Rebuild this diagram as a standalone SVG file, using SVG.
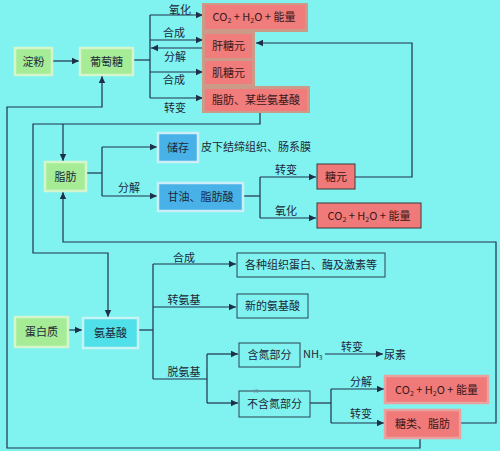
<svg xmlns="http://www.w3.org/2000/svg" width="500" height="451" viewBox="0 0 500 451">
<style>
text{font-family:"Noto Sans CJK SC","Noto Sans",sans-serif;fill:#1c2838;font-size:11px}
.c{text-anchor:middle}
.green{fill:#a6ec96;stroke:#d4f6cc;stroke-width:2.5}
.blue{fill:#48b2e8;stroke:#cdeef8;stroke-width:2.5}
.cyan{fill:#4fe0ea;stroke:#c6f4f4;stroke-width:2.5}
.redd{fill:#f07a7a;stroke:#3a3a3a;stroke-width:1}
.redl{fill:#f07a7a;stroke:#e8a2a0;stroke-width:2.5}
.redi{fill:#f07c7c}
.out{fill:none;stroke:#2a4252;stroke-width:1}
.rt{fill:#3a1818}
.conn path{fill:none;stroke:#1e3048;stroke-width:1.2}
.sub{font-size:7px}
</style>
<defs>
<marker id="ar" markerUnits="userSpaceOnUse" markerWidth="8" markerHeight="8" refX="7" refY="4" orient="auto">
<path d="M0,0.8 L7,4 L0,7.2 Z" fill="#1e3048"/>
</marker>
</defs>
<rect width="500" height="451" fill="#80f3f1"/>

<g class="conn">
<path d="M53 61 H79" marker-end="url(#ar)"/>
<path d="M133 60 H150"/>
<path d="M150 15 V98"/>
<path d="M150 15 H203" marker-end="url(#ar)"/>
<path d="M150 40 H203" marker-end="url(#ar)"/>
<path d="M203 48 H151" marker-end="url(#ar)"/>
<path d="M150 72 H203" marker-end="url(#ar)"/>
<path d="M150 98 H203" marker-end="url(#ar)"/>
<path d="M260 113 V124 H33 V253 H108 V317" marker-end="url(#ar)"/>
<path d="M63 124 V161" marker-end="url(#ar)"/>
<path d="M355 177 H412 V43 H256" marker-end="url(#ar)"/>
<path d="M86 173 H102"/>
<path d="M102 147 V196"/>
<path d="M102 147 H157" marker-end="url(#ar)"/>
<path d="M102 196 H157" marker-end="url(#ar)"/>
<path d="M243 196 H260"/>
<path d="M260 177 V218"/>
<path d="M260 177 H316" marker-end="url(#ar)"/>
<path d="M260 218 H316" marker-end="url(#ar)"/>
<path d="M68 330 H82" marker-end="url(#ar)"/>
<path d="M138 330 H153"/>
<path d="M153 264 V379"/>
<path d="M153 264 H236" marker-end="url(#ar)"/>
<path d="M153 307 H236" marker-end="url(#ar)"/>
<path d="M153 379 H207"/>
<path d="M207 354 V403"/>
<path d="M207 354 H238" marker-end="url(#ar)"/>
<path d="M207 403 H238" marker-end="url(#ar)"/>
<path d="M325 354 H383" marker-end="url(#ar)"/>
<path d="M310 403 H331"/>
<path d="M331 389 V423"/>
<path d="M331 389 H384" marker-end="url(#ar)"/>
<path d="M331 423 H384" marker-end="url(#ar)"/>
<path d="M420 438 V448 H7 V107 H102 V76" marker-end="url(#ar)"/>
<path d="M460 423 H496 V242 H63 V192" marker-end="url(#ar)"/>
</g>

<g id="labels">
<text x="180" y="14" class="c">氧化</text>
<text x="174" y="37" class="c">合成</text>
<text x="175" y="61" class="c">分解</text>
<text x="174" y="84" class="c">合成</text>
<text x="175" y="112" class="c">转变</text>
<text x="129" y="192" class="c">分解</text>
<text x="286" y="174" class="c">转变</text>
<text x="286" y="215" class="c">氧化</text>
<text x="184" y="262" class="c">合成</text>
<text x="184" y="304" class="c">转氨基</text>
<text x="184" y="376" class="c">脱氨基</text>
<text x="352" y="351" class="c">转变</text>
<text x="361" y="386" class="c">分解</text>
<text x="361" y="418" class="c">转变</text>
</g>

<g id="starch"><rect class="green" x="15" y="48" width="37" height="27"/><text x="33.5" y="65.5" class="c">淀粉</text></g>
<g id="glucose"><rect class="green" x="80" y="48" width="53" height="27"/><text x="106.5" y="65.5" class="c">葡萄糖</text></g>

<g id="sugar-products">
<path d="M202 3 H308 V32 H255 V86 H310 V113 H202 Z" fill="#cc9a88"/>
<rect class="redi" x="205" y="5" width="100" height="24"/>
<rect class="redi" x="205" y="34" width="47" height="24"/>
<rect class="redi" x="205" y="61" width="47" height="23"/>
<rect class="redi" x="205" y="89" width="102" height="22"/>
<text x="254" y="21" class="c rt">CO<tspan class="sub" dy="2">2</tspan><tspan dy="-2"> + H</tspan><tspan class="sub" dy="2">2</tspan><tspan dy="-2">O + 能量</tspan></text>
<text x="228.5" y="50" class="c rt">肝糖元</text>
<text x="228.5" y="77" class="c rt">肌糖元</text>
<text x="256" y="104" class="c rt">脂肪、某些氨基酸</text>
</g>

<g id="fat"><rect class="green" x="45" y="162" width="41" height="29"/><text x="65.5" y="180.5" class="c">脂肪</text></g>
<g id="storage"><rect class="blue" x="158" y="133" width="40" height="29"/><text x="178" y="151.5" class="c">储存</text></g>
<text x="201" y="151" font-size="11">皮下结缔组织、肠系膜</text>
<g id="glycerol"><rect class="blue" x="158" y="183" width="85" height="28"/><text x="200.5" y="201" class="c">甘油、脂肪酸</text></g>
<g id="glycogen"><rect class="redd" x="317" y="164" width="38" height="25"/><text x="336" y="180.5" class="c rt">糖元</text></g>
<g id="co2-fat"><rect class="redd" x="317" y="203" width="104" height="25"/><text x="369" y="220" class="c rt">CO<tspan class="sub" dy="2">2</tspan><tspan dy="-2"> + H</tspan><tspan class="sub" dy="2">2</tspan><tspan dy="-2">O + 能量</tspan></text></g>

<g id="protein"><rect class="green" x="15" y="317" width="53" height="30"/><text x="41.5" y="336" class="c">蛋白质</text></g>
<g id="aminoacid"><rect class="cyan" x="83" y="318" width="55" height="30"/><text x="110.5" y="337" class="c">氨基酸</text></g>
<g id="tissue"><rect class="out" x="237" y="253" width="148" height="24"/><text x="311" y="269" class="c">各种组织蛋白、酶及激素等</text></g>
<g id="newaa"><rect class="out" x="237" y="294" width="71" height="24"/><text x="272.5" y="310" class="c">新的氨基酸</text></g>
<g id="nitrogen"><rect class="out" x="239" y="343" width="61" height="24"/><text x="269.5" y="359" class="c">含氮部分</text></g>
<text x="303" y="358" font-size="9">NH<tspan font-size="6" dy="2">3</tspan></text>
<text x="384" y="359">尿素</text>
<g id="nonnitrogen"><rect class="out" x="239" y="391" width="71" height="26"/><text x="274.5" y="408" class="c">不含氮部分</text></g>
<text x="253" y="393" font-size="5" fill="#6c93a6" style="fill:#6c93a6;font-size:5px">15</text>
<g id="co2-aa"><rect class="redl" x="385" y="376" width="103" height="27"/><text x="436.5" y="393.5" class="c rt">CO<tspan class="sub" dy="2">2</tspan><tspan dy="-2"> + H</tspan><tspan class="sub" dy="2">2</tspan><tspan dy="-2">O + 能量</tspan></text></g>
<g id="sugarfat"><rect class="redl" x="385" y="410" width="75" height="28"/><text x="422.5" y="428" class="c rt">糖类、脂肪</text></g>
</svg>
